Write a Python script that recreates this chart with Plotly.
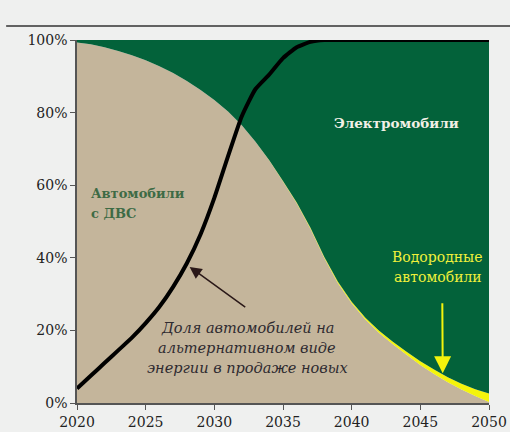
import plotly.graph_objects as go

years = list(range(2020, 2051))

# Share of ICE cars in the fleet, %
ice = [99.3, 98.8, 98.0, 97.0, 95.8, 94.4, 92.8, 90.9, 88.7, 86.2,
       83.5, 80.3, 76.5, 72.0, 66.8, 61.0, 55.0, 48.0, 40.0, 33.0,
       27.5, 23.0, 19.3, 16.2, 13.3, 10.5, 8.0, 5.7, 3.7, 1.9, 0.3]

# Share of hydrogen cars, %
hydrogen = [0, 0, 0, 0, 0, 0, 0, 0, 0, 0,
            0, 0, 0, 0, 0.1, 0.15, 0.2, 0.3, 0.3, 0.4,
            0.4, 0.5, 0.6, 0.7, 0.8, 1.0, 1.2, 1.4, 1.6, 1.9, 2.3]

# Share of alternative-energy cars in new sales, %
alt_sales = [4.0, 7.5, 11.0, 14.5, 18.0, 22.0, 26.5, 32.0, 38.5, 46.5,
             56.5, 68.0, 79.0, 86.5, 90.5, 95.0, 98.0, 99.5, 100, 100,
             100, 100, 100, 100, 100, 100, 100, 100, 100, 100, 100]

x_ticks = [2020, 2025, 2030, 2035, 2040, 2045, 2050]
y_ticks = [0, 20, 40, 60, 80, 100]
y_tick_labels = ["0%", "20%", "40%", "60%", "80%", "100%"]

ev = [100 - a - b for a, b in zip(ice, hydrogen)]

TAN = "#c4b59b"
GREEN = "#03623a"
YELLOW = "#f4f40c"
BG = "#eff0ef"
FONT = "DejaVu Serif"

fig = go.Figure()
fig.add_trace(go.Scatter(x=years, y=ice, stackgroup="one", mode="none",
                         fillcolor=TAN, hoverinfo="skip"))
fig.add_trace(go.Scatter(x=years, y=hydrogen, stackgroup="one", mode="none",
                         fillcolor=YELLOW, hoverinfo="skip"))
fig.add_trace(go.Scatter(x=years, y=ev, stackgroup="one", mode="none",
                         fillcolor=GREEN, hoverinfo="skip"))
fig.add_trace(go.Scatter(x=years, y=alt_sales, mode="lines",
                         line=dict(color="#000000", width=4, shape="spline", smoothing=0.5),
                         hoverinfo="skip"))

green_font = dict(family=FONT, size=13, color="#3d6b45")
yellow_font = dict(family=FONT, size=14, color="#f0f03a")
note_font = dict(family=FONT, size=14.5, color="#2e2a30")

annotations = [
    dict(x=2043.3, y=77.1, text="<b>Электромобили</b>", showarrow=False,
         font=dict(family=FONT, size=13.5, color="#f2f0e6")),
    dict(x=2020.9, y=57.85, text="<b>Автомобили</b>", showarrow=False,
         xanchor="left", font=green_font),
    dict(x=2020.9, y=52.3, text="<b>с ДВС</b>", showarrow=False,
         xanchor="left", font=green_font),
    dict(x=2046.25, y=40.2, text="Водородные", showarrow=False, font=yellow_font),
    dict(x=2046.25, y=34.7, text="автомобили", showarrow=False, font=yellow_font),
    dict(x=2032.4, y=20.66, text="<i>Доля автомобилей на</i>", showarrow=False,
         font=note_font),
    dict(x=2032.4, y=15.15, text="<i>альтернативном виде</i>", showarrow=False,
         font=note_font),
    dict(x=2032.4, y=9.64, text="<i>энергии в продаже новых</i>", showarrow=False,
         font=note_font),
    # black arrow
    dict(x=2028.2, y=37.5, ax=2032.36, ay=26.1, xref="x", yref="y",
         axref="x", ayref="y", text="", showarrow=True,
         arrowhead=2, arrowsize=1.6, arrowwidth=1.5, arrowcolor="#2a1818"),
    # yellow arrow
    dict(x=2046.63, y=8.2, ax=2046.6, ay=27.9, xref="x", yref="y",
         axref="x", ayref="y", text="", showarrow=True,
         arrowhead=2, arrowsize=1.7, arrowwidth=2, arrowcolor=YELLOW),
]

fig.update_layout(
    width=510, height=432,
    margin=dict(l=77, r=21, t=40, b=29, autoexpand=False),
    paper_bgcolor=BG,
    plot_bgcolor=BG,
    showlegend=False,
    font=dict(family=FONT, size=14, color="#222222"),
    annotations=annotations,
    shapes=[dict(type="line", xref="paper", yref="paper", layer="above",
                 x0=-0.172, x1=1.06, y0=1.0386, y1=1.0386,
                 line=dict(color="#333333", width=1.5))],
)
fig.update_xaxes(range=[2020, 2050], tickvals=x_ticks, automargin=False,
                 ticks="outside", ticklen=5, tickcolor="#555555",
                 showline=True, linecolor="#555555", linewidth=1.5,
                 showgrid=False, zeroline=False,
                 tickfont=dict(family=FONT, size=14, color="#222222"))
fig.update_yaxes(range=[0, 100], tickvals=y_ticks, ticktext=y_tick_labels,
                 automargin=False,
                 ticks="outside", ticklen=5, tickcolor="#555555",
                 showline=True, linecolor="#555555", linewidth=1.5,
                 showgrid=False, zeroline=False,
                 tickfont=dict(family=FONT, size=14, color="#222222"))

fig.write_html(
    "out.html",
    config={"displayModeBar": False},
    post_script=("document.body.style.margin='0';"
                 "document.body.style.overflow='hidden';"
                 "document.body.style.background='#eff0ef';"),
)
